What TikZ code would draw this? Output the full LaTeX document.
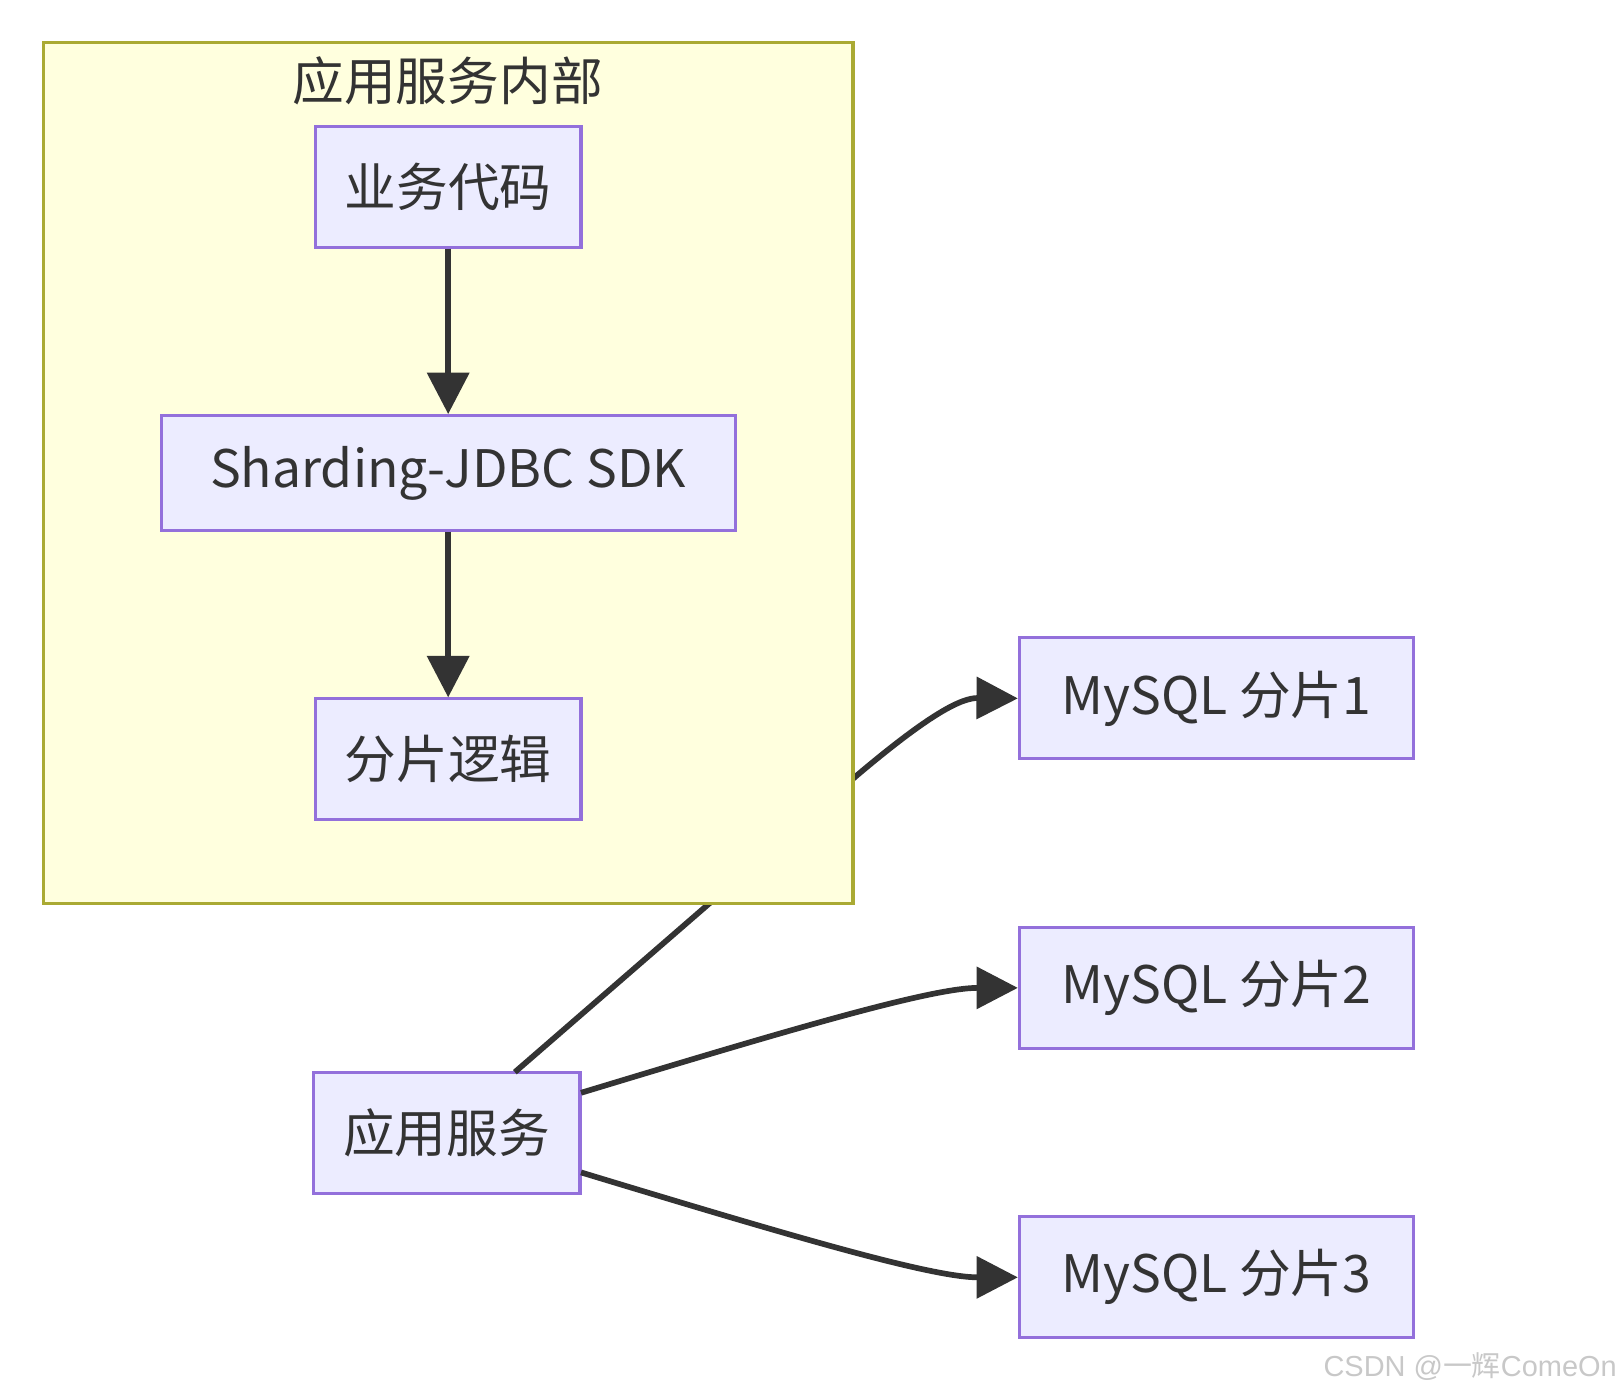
\documentclass[tikz,border=0pt]{standalone}
\usepackage{fontspec}
\setmainfont{Noto Sans CJK SC}
\newfontfamily\wmfont{Liberation Sans}
\newfontfamily\cjkfont{Noto Sans CJK SC}
\usetikzlibrary{arrows.meta,calc}
\definecolor{nodefill}{HTML}{ECECFF}
\definecolor{nodeline}{HTML}{9370DB}
\definecolor{clfill}{HTML}{FFFFDE}
\definecolor{clline}{HTML}{AAAA33}
\definecolor{ink}{HTML}{333333}
\definecolor{wm}{HTML}{C8C8C8}
\begin{document}
\begin{tikzpicture}[x=1pt,y=-1pt,
  box/.style={draw=nodeline,fill=nodefill,line width=3pt,inner sep=0pt,text=ink,
    font=\fontsize{50}{60}\selectfont,minimum height=117pt},
  edge/.style={draw=ink,line width=5.5pt,-{Triangle[length=40pt,width=40pt]}},
  cluster/.style={draw=clline,fill=clfill,line width=3pt},
  ctitle/.style={text=ink,font=\fontsize{50}{60}\selectfont,inner sep=0pt},
  wmark/.style={text=wm,font=\wmfont\fontsize{28}{32}\selectfont,inner sep=0pt,anchor=east}
]
\useasboundingbox (0,0) rectangle (1565,1346);

% nodes outside the cluster
\node[box,minimum width=258pt] (app) at (432,1095.5) {应用服务};
\node[box,minimum width=381pt] (m1) at (1176.5,675.5) {MySQL 分片1};
\node[box,minimum width=381pt] (m2) at (1176.5,955.5) {MySQL 分片2};
\node[box,minimum width=381pt] (m3) at (1176.5,1235.5) {MySQL 分片3};

% edge passing behind the cluster
\coordinate (e1s) at (498,1037);
\coordinate (e1m) at (830,749);
\draw[edge] (e1s) -- (e1m) .. controls (900,690) and (930,675) .. (m1.west);

% cluster
\node[cluster,minimum width=783pt,minimum height=833pt,inner sep=0pt] (cl) at (433.5,457.5) {};
\node[ctitle] (cltitle) at (433,78) {应用服务内部};

\node[box,minimum width=257pt] (biz) at (433.5,180.5) {业务代码};
\node[box,minimum width=555pt,minimum height=111pt] (sdk) at (433.5,457.5) {Sharding-JDBC SDK};
\node[box,minimum width=257pt] (logic) at (433.5,734.5) {分片逻辑};

\draw[edge] (biz) -- (sdk);
\draw[edge] (sdk) -- (logic);

\coordinate (e2s) at (562,1057);
\coordinate (e3s) at (562,1134);
\draw[edge] (e2s) .. controls (760,997) and (900,955.5) .. (m2.west);
\draw[edge] (e3s) .. controls (760,1194) and (900,1235.5) .. (m3.west);

\node[wmark] (wmk) at (1564,1322) {CSDN @{\cjkfont 一辉}ComeOn};
\end{tikzpicture}
\end{document}
